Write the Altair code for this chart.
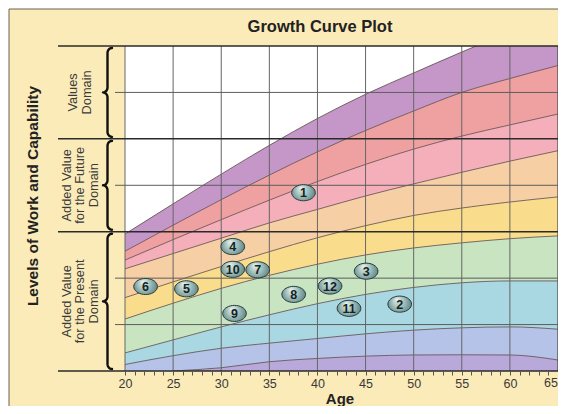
import math
import altair as alt
import pandas as pd

# ---------------- data ----------------
AGES = [20, 25, 30, 35, 40, 45, 50, 55, 60, 65]
C0 = [2.95, 3.60, 4.24, 4.86, 5.44, 5.96, 6.42, 6.87, 7.30, 7.70]
C1 = [2.58, 3.14, 3.69, 4.22, 4.72, 5.18, 5.60, 6.00, 6.30, 6.58]
C2 = [2.39, 2.83, 3.26, 3.68, 4.08, 4.45, 4.78, 5.06, 5.30, 5.535]
C3 = [2.20, 2.53, 2.86, 3.19, 3.48, 3.77, 4.03, 4.28, 4.52, 4.745]
C4 = [1.58, 1.92, 2.25, 2.57, 2.87, 3.13, 3.35, 3.51, 3.64, 3.75]
C5 = [1.12, 1.46, 1.78, 2.06, 2.30, 2.50, 2.65, 2.76, 2.85, 2.91]
C6 = [0.39, 0.67, 0.95, 1.21, 1.45, 1.65, 1.80, 1.90, 1.94, 1.94]
C7 = [0.14, 0.33, 0.49, 0.60, 0.70, 0.80, 0.88, 0.93, 0.95, 0.90]
C8 = [0.00, 0.00, 0.07, 0.20, 0.27, 0.32, 0.345, 0.35, 0.345, 0.237]
CURVES = [C0, C1, C2, C3, C4, C5, C6, C7, C8]

BAND_NAMES = ["b0", "b1", "b2", "b3", "b4", "b5", "b6", "b7", "b8"]
BAND_COLORS = ["#C497C8", "#EFA1A1", "#F5AFBA", "#F7CFA4", "#FADD8C",
               "#C9E4C1", "#A9D8E2", "#B5C3E8", "#B8A9DA"]

BALL_IDS = ["1", "2", "3", "4", "5", "6", "7", "8", "9", "10", "11", "12"]
BALL_AGE = [38.55, 48.55, 45.06, 31.2, 26.38, 22.14, 33.79, 37.53, 31.38, 31.2, 43.28, 41.31]
BALL_LEVEL = [3.84, 1.44, 2.15, 2.68, 1.77, 1.82, 2.18, 1.65, 1.24, 2.19, 1.35, 1.83]

DOMAIN_TEXT = ["Values\nDomain", "Added Value\nfor the Future\nDomain",
               "Added Value\nfor the Present\nDomain"]
DOMAIN_LOW = [5, 3, 0]
DOMAIN_HIGH = [7, 5, 3]
MAJOR_LEVELS = [7, 5, 3, 0]
MINOR_LEVELS = [6, 4, 2, 1]
GRID_AGES = [20, 25, 30, 35, 40, 45, 50, 55, 60]
TICK_AGES = list(range(20, 66))
LAST_LABEL = "65"

TITLE = "Growth Curve Plot"
Y_TITLE = "Levels of Work and Capability"
X_TITLE = "Age"

# ---------------- layout ----------------
W, H = 433, 325
PAD_L, PAD_T, PAD_R, PAD_B = 117, 38, 0, 35
X0, X1 = 20, 65
Y0, Y1 = 0, 7
FONT = "Liberation Sans"
CREAM = "#FBEBB9"
LABEL_LH = 13.5
LABEL_CX = -45.0


def px_to_age(px_rel):
    return X0 + px_rel * (X1 - X0) / W


def px_to_level(py_rel):
    return Y1 - py_rel * (Y1 - Y0) / H


def level_to_px(lv):
    return (Y1 - lv) * H / (Y1 - Y0)


xs = alt.Scale(domain=[X0, X1], nice=False, zero=False)
ys = alt.Scale(domain=[Y0, Y1], nice=False, zero=False)
x_axis = alt.Axis(values=TICK_AGES,
                  labelExpr=f"datum.value % 5 === 0 && datum.value < {X1} ? datum.label : ''",
                  tickSize=4, tickColor="#555555", tickWidth=1, domain=False, grid=False,
                  labelFontSize=12.5, labelColor="#3a3a3a", labelFont=FONT, labelPadding=2,
                  labelFlush=False, labelOverlap=False, zindex=2, title=None)


def X(field="age"):
    return alt.X(f"{field}:Q", scale=xs, axis=x_axis)


def Y(field):
    return alt.Y(f"{field}:Q", scale=ys, axis=None, stack=None)


one = pd.DataFrame({"k": [0]})

# cream panel with border and white plot area
panel = alt.Chart(one).mark_rect(fill=CREAM, stroke="#6b6150", strokeWidth=1).encode(
    x=alt.value(-116), x2=alt.value(W + 60), y=alt.value(-37), y2=alt.value(H + 80))
plot_bg = alt.Chart(one).mark_rect(fill="white").encode(
    x=alt.value(0), x2=alt.value(W), y=alt.value(0), y2=alt.value(H))

# bands
rows = []
for i, name in enumerate(BAND_NAMES):
    upper = CURVES[i]
    lower = CURVES[i + 1] if i + 1 < len(CURVES) else [0.0] * len(AGES)
    for a, u, l in zip(AGES, upper, lower):
        rows.append({"band": name, "age": a, "top": u, "bottom": l})
band_df = pd.DataFrame(rows)
areas = alt.Chart(band_df).mark_area(interpolate="monotone", clip=True).encode(
    x=X(), y=Y("top"), y2="bottom:Q",
    color=alt.Color("band:N", scale=alt.Scale(domain=BAND_NAMES, range=BAND_COLORS), legend=None))

# boundary lines
lrows = []
for i, c in enumerate(CURVES):
    for a, v in zip(AGES, c):
        if i == len(CURVES) - 1 and a < 25:
            continue
        lrows.append({"curve": i, "age": a, "lv": v})
lines = alt.Chart(pd.DataFrame(lrows)).mark_line(
    interpolate="monotone", clip=True, color="#5a4848", strokeWidth=0.8).encode(
    x=X(), y=Y("lv"), detail="curve:N")

# vertical grid
vgrid = alt.Chart(pd.DataFrame({"age": GRID_AGES})).mark_rule(color="#666666", strokeWidth=1).encode(
    x=X(), y=alt.value(0), y2=alt.value(H))
right_edge = alt.Chart(pd.DataFrame({"age": [X1]})).mark_rule(color="#444444", strokeWidth=1.2).encode(
    x=X(), y=alt.value(0), y2=alt.value(H))

# horizontal lines
minor = alt.Chart(pd.DataFrame({"lv": MINOR_LEVELS})).mark_rule(color="#5c5c5c", strokeWidth=1).encode(
    y=Y("lv"), x=alt.value(-10), x2=alt.value(W))
major = alt.Chart(pd.DataFrame({"lv": MAJOR_LEVELS})).mark_rule(color="#2a2a2a", strokeWidth=1.5).encode(
    y=Y("lv"), x=alt.value(-67), x2=alt.value(W))

# braces (shape generated from the domain boundaries)
brows = []
xe, xsp, xt, r = -13.0, -17.5, -22.0, 5.0
for d, (lo, hi) in enumerate(zip(DOMAIN_LOW, DOMAIN_HIGH)):
    yt = level_to_px(hi) + 2
    yb = level_to_px(lo) - 2
    ym = (yt + yb) / 2
    pts = []
    n = 8
    for k in range(n + 1):
        t = (math.pi / 2) * k / n
        pts.append((xe - (xe - xsp) * math.sin(t), yt + r - r * math.cos(t)))
    for k in range(n + 1):
        t = (math.pi / 2) * k / n
        pts.append((xt + (xsp - xt) * math.cos(t), ym - r + r * math.sin(t)))
    for k in range(n + 1):
        t = (math.pi / 2) * k / n
        pts.append((xt + (xsp - xt) * math.sin(t), ym + r - r * math.cos(t)))
    for k in range(n + 1):
        t = (math.pi / 2) * k / n
        pts.append((xsp + (xe - xsp) * (1 - math.cos(t)), yb - r + r * math.sin(t)))
    for j, (px, py) in enumerate(pts):
        brows.append({"dom": d, "i": j, "age": px_to_age(px), "lv": px_to_level(py)})
braces = alt.Chart(pd.DataFrame(brows)).mark_line(
    color="#111111", strokeWidth=2.4, strokeCap="round", strokeJoin="round").encode(
    x=X(), y=Y("lv"), detail="dom:N", order="i:Q")

# domain labels (first line is anchored; shift so the block is centred)
dom_layers = []
for txt, lo, hi in zip(DOMAIN_TEXT, DOMAIN_LOW, DOMAIN_HIGH):
    nlines = txt.count("\n") + 1
    dom_layers.append(
        alt.Chart(pd.DataFrame({"txt": [txt], "mid": [(lo + hi) / 2]})).mark_text(
            angle=270, fontSize=12.8, font=FONT, color="#3a3a3a", lineBreak="\n",
            lineHeight=LABEL_LH, align="center", baseline="middle").encode(
            x=alt.value(LABEL_CX - (nlines - 1) * LABEL_LH / 2), y=Y("mid"), text="txt:N"))

# last tick label kept inside the page (right-aligned at the plot edge)
last_lbl = alt.Chart(one).mark_text(
    text=LAST_LABEL, fontSize=12.5, font=FONT, color="#3a3a3a",
    align="right", baseline="top").encode(x=alt.value(W), y=alt.value(H + 6))

title = alt.Chart(one).mark_text(
    text=TITLE, fontSize=16.5, fontWeight="bold", font=FONT, color="#222222",
    align="center", baseline="middle").encode(x=alt.value(320 - 125), y=alt.value(-19))
xtitle = alt.Chart(one).mark_text(
    text=X_TITLE, fontSize=15, fontWeight="bold", font=FONT, color="#222222",
    align="center", baseline="middle").encode(x=alt.value(340 - 125), y=alt.value(H + 28))
ytitle = alt.Chart(one).mark_text(
    text=Y_TITLE, fontSize=15.5, fontWeight="bold", font=FONT, color="#222222", angle=270,
    align="center", baseline="middle").encode(x=alt.value(-92), y=alt.value(150))

# balls
ell = "M" + " L".join(f"{math.cos(2*math.pi*k/36):.3f},{0.68*math.sin(2*math.pi*k/36):.3f}"
                      for k in range(36)) + " Z"
ball_df = pd.DataFrame({"id": BALL_IDS, "age": BALL_AGE, "lv": BALL_LEVEL})
grad = alt.RadialGradient(
    gradient="radial", x1=0.38, y1=0.3, r1=0.0, x2=0.5, y2=0.5, r2=0.62,
    stops=[alt.GradientStop(offset=0, color="#EAF3F0"),
           alt.GradientStop(offset=0.45, color="#9DBDB9"),
           alt.GradientStop(offset=1, color="#4A6E72")])
balls = alt.Chart(ball_df).mark_point(
    shape=ell, size=560, filled=True, fill=grad, opacity=1,
    stroke="#243b3b", strokeWidth=1).encode(x=X(), y=Y("lv"))
nums = alt.Chart(ball_df).mark_text(
    fontSize=12.5, fontWeight="bold", font=FONT, color="#152323",
    align="center", baseline="middle", dy=0.5).encode(x=X(), y=Y("lv"), text="id:N")

chart = alt.layer(
    panel, plot_bg, areas, lines, vgrid, right_edge, minor, major, braces,
    *dom_layers, last_lbl, title, xtitle, ytitle, balls, nums
).properties(
    width=W, height=H,
    autosize=alt.AutoSizeParams(type="none"),
    padding={"left": PAD_L, "top": PAD_T, "right": PAD_R, "bottom": PAD_B},
    background="white",
).configure_view(stroke=None)

chart.save("out.html", embed_options={"renderer": "svg", "actions": False})
